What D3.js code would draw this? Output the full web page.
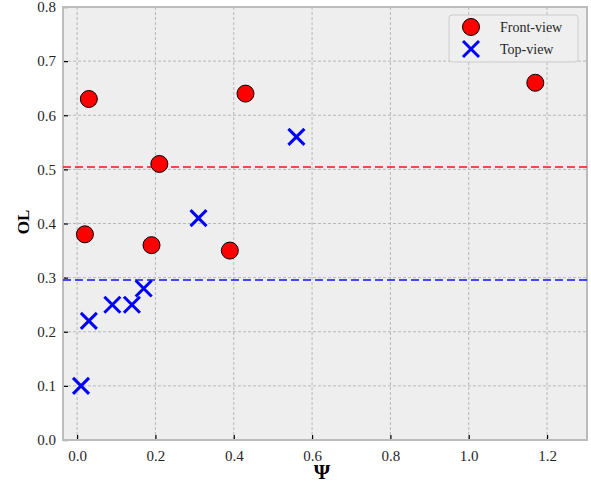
<!DOCTYPE html>
<html>
<head>
<meta charset="utf-8">
<script src="https://cdn.jsdelivr.net/npm/d3@7"></script>
<style>
  html, body { margin: 0; padding: 0; background: #ffffff; }
  svg { display: block; }
</style>
</head>
<body>
<script>
// ---- data ----
const frontPsi = [0.02, 0.03, 0.19, 0.21, 0.39, 0.43, 1.17];
const frontOL  = [0.38, 0.63, 0.36, 0.51, 0.35, 0.64, 0.66];
const topPsi   = [0.01, 0.03, 0.09, 0.14, 0.17, 0.31, 0.56];
const topOL    = [0.10, 0.22, 0.25, 0.25, 0.28, 0.41, 0.56];
const xTicks = [0.0, 0.2, 0.4, 0.6, 0.8, 1.0, 1.2];
const yTicks = [0.0, 0.1, 0.2, 0.3, 0.4, 0.5, 0.6, 0.7, 0.8];
const seriesNames = ["Front-view", "Top-view"];

const FONT = "'Liberation Serif', 'DejaVu Serif', serif";

const W = 591, H = 486;
const margin = { left: 63, right: 4, top: 7, bottom: 46 };
const pw = W - margin.left - margin.right;
const ph = H - margin.top - margin.bottom;

const svg = d3.select("body").append("svg").attr("width", W).attr("height", H);
const g = svg.append("g").attr("transform", `translate(${margin.left},${margin.top})`);

const x = d3.scaleLinear().domain([-0.036, 1.302]).range([0, pw]);
const y = d3.scaleLinear().domain([0, 0.8]).range([ph, 0]);

// background
g.append("rect").attr("width", pw).attr("height", ph).attr("fill", "#eeeeee");

// grid
g.append("g").selectAll("line").data(xTicks).join("line")
  .attr("x1", d => x(d)).attr("x2", d => x(d)).attr("y1", 0).attr("y2", ph)
  .attr("stroke", "#aaaaaa").attr("stroke-width", 0.8).attr("stroke-dasharray", "3,2");
g.append("g").selectAll("line").data(yTicks.slice(1, -1)).join("line")
  .attr("x1", 0).attr("x2", pw).attr("y1", d => y(d)).attr("y2", d => y(d))
  .attr("stroke", "#aaaaaa").attr("stroke-width", 0.8).attr("stroke-dasharray", "3,2");

// axes (ticks inward)
const xAxis = d3.axisBottom(x).tickValues(xTicks).tickFormat(d3.format(".1f")).tickSizeInner(-5).tickSizeOuter(0).tickPadding(10);
const yAxis = d3.axisLeft(y).tickValues(yTicks).tickFormat(d3.format(".1f")).tickSizeInner(-5).tickSizeOuter(0).tickPadding(7);
const gx = g.append("g").attr("transform", `translate(0,${ph})`).call(xAxis);
const gy = g.append("g").call(yAxis);
[gx, gy].forEach(a => {
  a.attr("font-family", FONT).attr("font-size", 15);
  a.select(".domain").remove();
  a.selectAll(".tick line").attr("stroke", "#000").attr("stroke-width", 1.2);
  a.selectAll(".tick text").attr("fill", "#262626");
});

// frame
g.append("rect").attr("width", pw).attr("height", ph).attr("fill", "none")
  .attr("stroke", "#bcbcbc").attr("stroke-width", 2);

// mean lines
const meanFront = d3.mean(frontOL), meanTop = d3.mean(topOL);
g.append("line").attr("x1", 0).attr("x2", pw).attr("y1", y(meanFront)).attr("y2", y(meanFront))
  .attr("stroke", "#ff0000").attr("stroke-opacity", 0.7).attr("stroke-width", 2).attr("stroke-dasharray", "8,4");
g.append("line").attr("x1", 0).attr("x2", pw).attr("y1", y(meanTop)).attr("y2", y(meanTop))
  .attr("stroke", "#0000ff").attr("stroke-opacity", 0.7).attr("stroke-width", 2).attr("stroke-dasharray", "8,4");

// markers
const frontPts = frontPsi.map((v, i) => ({ x: v, y: frontOL[i] }));
const topPts = topPsi.map((v, i) => ({ x: v, y: topOL[i] }));

g.append("g").selectAll("circle").data(frontPts).join("circle")
  .attr("cx", d => x(d.x)).attr("cy", d => y(d.y)).attr("r", 8.5)
  .attr("fill", "#ff0000").attr("stroke", "#000").attr("stroke-width", 1);

g.append("g").selectAll("path").data(topPts).join("path")
  .attr("transform", d => `translate(${x(d.x)},${y(d.y)})`)
  .attr("d", "M-8,-8L8,8M-8,8L8,-8")
  .attr("fill", "none").attr("stroke", "#0000ff").attr("stroke-width", 3);

// axis labels
svg.append("text").attr("x", 322).attr("y", 479).attr("text-anchor", "middle")
  .attr("font-family", FONT).attr("font-size", 21).attr("font-weight", "bold").attr("fill", "#000").text("Ψ");
svg.append("text").attr("transform", "translate(29,222) rotate(-90)").attr("text-anchor", "middle")
  .attr("font-family", FONT).attr("font-size", 17).attr("font-weight", "bold").attr("fill", "#000").text("OL");

// legend
const lg = svg.append("g");
lg.append("rect").attr("x", 449).attr("y", 15).attr("width", 129).attr("height", 47).attr("rx", 3)
  .attr("fill", "#eeeeee").attr("fill-opacity", 0.85).attr("stroke", "#cccccc").attr("stroke-width", 1);
lg.append("circle").attr("cx", 471).attr("cy", 27).attr("r", 8.5)
  .attr("fill", "#ff0000").attr("stroke", "#000").attr("stroke-width", 1);
lg.append("path").attr("transform", "translate(471,49)").attr("d", "M-8,-8L8,8M-8,8L8,-8")
  .attr("fill", "none").attr("stroke", "#0000ff").attr("stroke-width", 3);
lg.selectAll("text.lab").data(seriesNames).join("text").attr("class", "lab")
  .attr("x", 500).attr("y", (d, i) => 27 + i * 22).attr("dy", "0.35em")
  .attr("font-family", FONT).attr("font-size", 14).attr("fill", "#262626").text(d => d);
</script>
</body>
</html>
